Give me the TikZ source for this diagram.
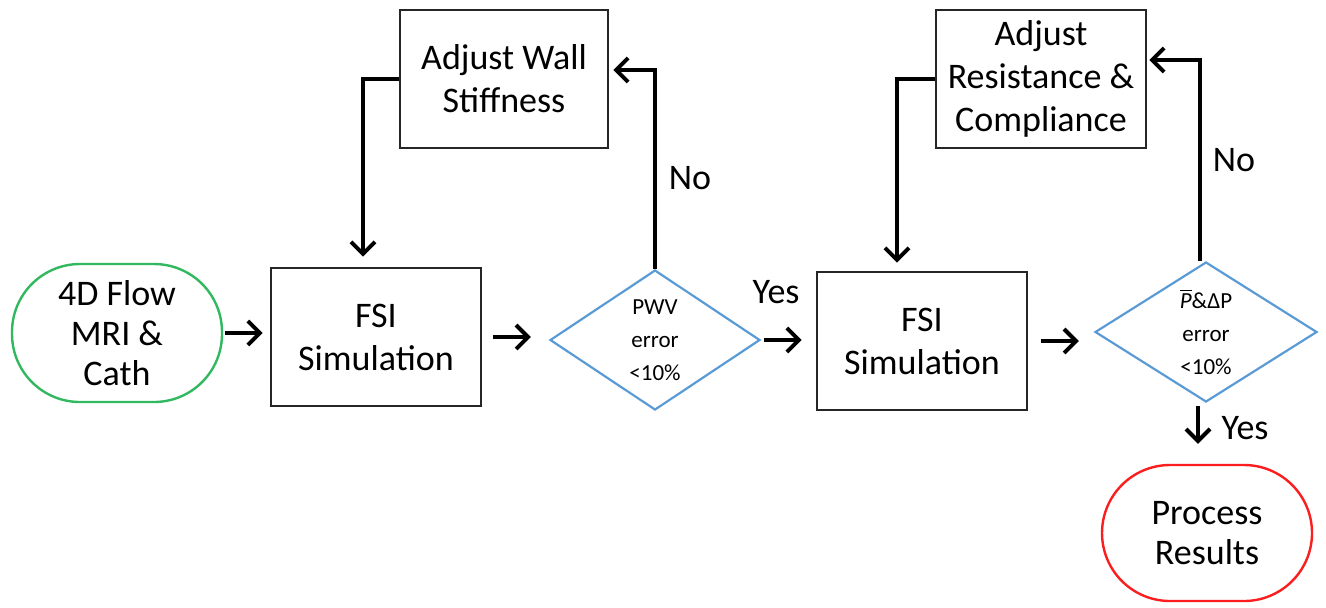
\documentclass[tikz,border=0pt]{standalone}
\usepackage{fontspec}
\setmainfont{Carlito}
\usetikzlibrary{shapes.geometric,arrows.meta,calc}
\definecolor{dblue}{RGB}{91,155,213}
\definecolor{tgreen}{RGB}{50,185,95}
\definecolor{tred}{RGB}{250,30,30}
\begin{document}
\begin{tikzpicture}[x=0.5pt,y=-0.5pt,
  box/.style={draw=black!85, line width=1.3pt, minimum width=105pt, minimum height=69pt, align=center, inner sep=0pt, font=\fontsize{18}{21.5}\selectfont},
  term/.style={line width=1.2pt, minimum width=105pt, minimum height=69pt, align=center, inner sep=0pt, rounded corners=34pt, font=\fontsize{18}{20}\selectfont},
  dec/.style={diamond, draw=dblue, line width=1.1pt, inner sep=0pt, align=center, minimum height=70pt, font=\fontsize{11.5}{16.5}\selectfont},
  arr/.style={line width=2pt, -{Straight Barb[length=6pt,width=12pt]}},
  lab/.style={font=\fontsize{18}{21.5}\selectfont, inner sep=0pt}]
\useasboundingbox (0,0) rectangle (1326,607);

\node[term, draw=tgreen] (start) at (117,333) {4D Flow\\MRI \&\\Cath};
\node[box] (fsi1) at (376,337) {FSI\\Simulation};
\node[box, minimum width=104pt] (adj1) at (504,79) {Adjust Wall\\Stiffness};
\node[dec, minimum width=105pt] (d1) at (655,340) {PWV\\error\\<10\%};
\node[box] (fsi2) at (922,341) {FSI\\Simulation};
\node[box] (adj2) at (1041,79) {Adjust\\Resistance \&\\Compliance};
\node[dec, minimum width=111pt] (d2) at (1206,332) {$\overline{\mbox{\itshape P}}$\&ΔP\\error\\<10\%};
\node[term, draw=tred, minimum height=68pt] (end) at (1207,533) {Process\\Results};

\coordinate (k1) at (655,70);
\coordinate (k3) at (1200,60);

\draw[arr, shorten <=1pt, shorten >=3.5pt] (start.east) -- (start.east -| fsi1.west);
\draw[arr, shorten <=5.5pt, shorten >=9pt] (fsi1.east) -- (fsi1.east -| d1.west);
\draw[arr, shorten <=1.5pt, shorten >=7pt] (d1.east) -- (d1.east -| fsi2.west);
\draw[arr, shorten <=6.5pt, shorten >=7.5pt] (fsi2.east) -- (fsi2.east -| d2.west);

\draw[arr, shorten >=2pt] (d1.north) -- (k1) -- (k1 -| adj1.east);
\draw[arr, shorten >=5pt] (adj1.west) -| ($(fsi1.north)+(-13,0)$);

\draw[arr, shorten >=1pt] (k3 |- d2.north) -- (k3) -- (k3 -| adj2.east);
\draw[arr, shorten >=4pt] (adj2.west) -| ($(fsi2.north)+(-25,0)$);

\draw[arr, shorten <=1.5pt, shorten >=10pt] ($(d2.south)+(-8,0)$) -- ($(end.north)+(-9,0)$);

\node[lab] (no1) at (690,178) {No};
\node[lab] (yes1) at (776,292) {Yes};
\node[lab] (no2) at (1234,160) {No};
\node[lab] (yes2) at (1245,428) {Yes};
\end{tikzpicture}
\end{document}
